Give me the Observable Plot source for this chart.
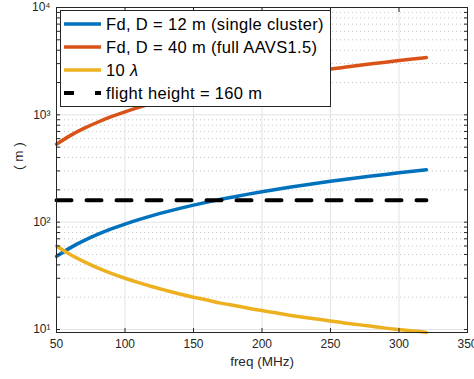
<!DOCTYPE html>
<html><head><meta charset="utf-8">
<script src="https://cdn.jsdelivr.net/npm/d3@7"></script>
<script src="https://cdn.jsdelivr.net/npm/@observablehq/plot@0.6"></script>
<style>
html,body{margin:0;padding:0;background:#fff;}
#wrap{position:relative;width:474px;height:379px;font-family:"Liberation Sans",Arial,Helvetica,sans-serif;}
#legend{position:absolute;left:60px;top:10px;width:269px;height:95px;border:1px solid #262626;background:#fff;}
.row{position:absolute;left:0;height:23px;display:flex;align-items:center;font-size:16.5px;letter-spacing:0.35px;color:#000;white-space:nowrap;}
.row svg{margin-left:3px;margin-right:5px;flex:none;}
</style></head><body><div id="wrap"></div>
<script>
// ---- data ----
const freq = [50,60,70,80,90,100,110,120,130,140,150,160,170,180,190,200,210,220,230,240,250,260,270,280,290,300,310,320];
const fd12 = [48,57.6,67.2,76.8,86.4,96,105.6,115.2,124.8,134.4,144,153.6,163.2,172.8,182.4,192,201.6,211.2,220.8,230.4,240,249.6,259.2,268.8,278.4,288,297.6,307.2];
const fd40 = [533,640,747,853,960,1067,1173,1280,1387,1493,1600,1707,1813,1920,2027,2133,2240,2347,2453,2560,2667,2773,2880,2987,3093,3200,3307,3413];
const lambda10 = [60,50,42.9,37.5,33.3,30,27.3,25,23.1,21.4,20,18.8,17.6,16.7,15.8,15,14.3,13.6,13,12.5,12,11.5,11.1,10.7,10.3,10,9.7,9.4];
const flightFreq = [50,320];
const flightHeight = [160,160];
const seriesNames = ["Fd, D = 12 m (single cluster)","Fd, D = 40 m (full AAVS1.5)","10 λ","flight height = 160 m"];
const xTicks = [50,100,150,200,250,300,350];
const yMajor = [10,100,1000,10000];
const yMinor = [20,30,40,50,60,70,80,90,200,300,400,500,600,700,800,900,2000,3000,4000,5000,6000,7000,8000,9000];
const xDomain = [50,350];
const yDomain = [9.375,10000];
const xLabel = "freq (MHz)";
const yLabel = "( m )";

const colors = ["#0072BD","#D95319","#EDB120","#000000"];
const toRows = (xs, ys) => xs.map((x,i)=>({x, y: ys[i]}));
const sup = {"0":"⁰","1":"¹","2":"²","3":"³","4":"⁴","5":"⁵"};
const fmtY = d => "10" + String(Math.round(Math.log10(d))).split("").map(c=>sup[c]).join("");
const axisColor = "#262626";

const chart = Plot.plot({
  width: 474, height: 379,
  marginLeft: 56, marginRight: 7, marginTop: 7, marginBottom: 47,
  style: {fontFamily: "'Liberation Sans', Arial, Helvetica, sans-serif", background: "#fff", color: axisColor, overflow: "visible"},
  x: {domain: xDomain},
  y: {type: "log", domain: yDomain},
  marks: [
    Plot.ruleY(yMinor, {stroke: "#c4c4c4", strokeDasharray: "1,3", strokeWidth: 1}),
    Plot.ruleX(xTicks, {stroke: "#e3e3e3", strokeWidth: 1}),
    Plot.ruleY(yMajor, {stroke: "#e3e3e3", strokeWidth: 1}),
    Plot.line(toRows(freq, fd12), {x: "x", y: "y", stroke: colors[0], strokeWidth: 3.5, curve: "natural"}),
    Plot.line(toRows(freq, fd40), {x: "x", y: "y", stroke: colors[1], strokeWidth: 3.5, curve: "natural"}),
    Plot.line(toRows(freq, lambda10), {x: "x", y: "y", stroke: colors[2], strokeWidth: 3.5, curve: "natural"}),
    Plot.line(toRows(flightFreq, flightHeight), {x: "x", y: "y", stroke: colors[3], strokeWidth: 4, strokeDasharray: "15,15"}),
    Plot.frame({stroke: axisColor, strokeWidth: 1}),
    Plot.axisX({anchor: "bottom", ticks: xTicks, tickSize: -4, tickPadding: 11, fontSize: 12, label: null, stroke: axisColor}),
    Plot.axisX({anchor: "top", ticks: xTicks, tickSize: -4, tickFormat: () => "", label: null, stroke: axisColor}),
    Plot.axisY({anchor: "left", ticks: yMajor, tickSize: -4, tickPadding: 10, tickFormat: fmtY, fontSize: 12, label: null, stroke: axisColor}),
    Plot.axisY({anchor: "left", ticks: yMinor, tickSize: -4, tickFormat: () => "", label: null, stroke: axisColor}),
    Plot.axisY({anchor: "right", ticks: yMajor.concat(yMinor), tickSize: -4, tickFormat: () => "", label: null, stroke: axisColor}),
    Plot.text([xLabel], {text: d => d, frameAnchor: "bottom", dy: 33, fontSize: 13.5, fill: axisColor}),
    Plot.text([yLabel], {text: d => d, frameAnchor: "left", rotate: -90, dx: -38, fontSize: 13.5, fill: axisColor})
  ]
});

const wrap = document.getElementById("wrap");
wrap.appendChild(chart);

// legend inside the axes
const legend = document.createElement("div");
legend.id = "legend";
const rowTops = [1.5, 24.5, 47.5, 70.5];
seriesNames.forEach((name, i) => {
  const row = document.createElement("div");
  row.className = "row";
  row.style.top = rowTops[i] + "px";
  const dash = i === 3 ? ' stroke-dasharray="10,21"' : "";
  const sw = i === 3 ? 4 : 3.5;
  const label = name.replace("λ", "<i>λ</i>");
  row.innerHTML = `<svg width="37" height="10"><line x1="0" x2="37" y1="5" y2="5" stroke="${colors[i]}" stroke-width="${sw}"${dash}/></svg><span>${label}</span>`;
  legend.appendChild(row);
});
wrap.appendChild(legend);
</script>
</body></html>
